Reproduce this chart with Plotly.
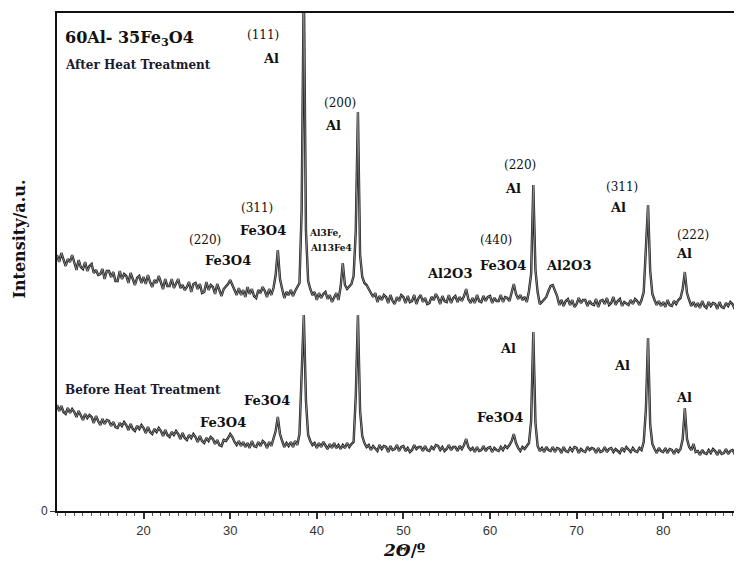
import numpy as np
import plotly.graph_objects as go

# ---------------- data ----------------
# 2-theta sampling: start, step (degrees)
two_theta_start = 10.0
two_theta_step = 0.25

# After heat treatment (upper pattern), intensity a.u., one row per degree (x.00, x.25, x.50, x.75)
after_ht = [
    256, 249, 258, 251,   # 10
    245, 252, 249, 256,   # 11
    248, 241, 251, 244,   # 12
    242, 249, 240, 245,   # 13
    247, 238, 241, 236,   # 14
    237, 242, 232, 240,   # 15
    240, 234, 239, 230,   # 16
    230, 240, 232, 237,   # 17
    235, 228, 238, 232,   # 18
    226, 233, 235, 228,   # 19
    234, 227, 236, 229,   # 20
    224, 231, 228, 235,   # 21
    229, 222, 232, 225,   # 22
    225, 232, 223, 228,   # 23
    232, 223, 226, 221,   # 24
    224, 229, 219, 227,   # 25
    228, 222, 227, 218,   # 26
    219, 229, 221, 226,   # 27
    224, 217, 227, 221,   # 28
    215, 222, 224, 227,   # 29
    231, 226, 222, 216,   # 30
    223, 216, 221, 214,   # 31
    224, 217, 222, 215,   # 32
    213, 221, 218, 224,   # 33
    220, 214, 222, 216,   # 34
    223, 236, 261, 232,   # 35
    222, 213, 219, 216,   # 36
    221, 215, 220, 224,   # 37
    228, 300, 530, 280,   # 38
    230, 222, 216, 219,   # 39
    211, 218, 213, 217,   # 40
    219, 212, 216, 209,   # 41
    213, 218, 211, 224,   # 42
    248, 226, 222, 224,   # 43
    227, 235, 280, 399,   # 44
    256, 234, 228, 226,   # 45
    222, 219, 214, 218,   # 46
    209, 215, 211, 216,   # 47
    214, 208, 216, 210,   # 48
    207, 214, 210, 216,   # 49
    214, 208, 215, 209,   # 50
    210, 216, 207, 213,   # 51
    216, 209, 213, 207,   # 52
    208, 214, 211, 217,   # 53
    213, 207, 215, 210,   # 54
    209, 216, 208, 213,   # 55
    215, 209, 214, 210,   # 56
    215, 222, 212, 208,   # 57
    213, 208, 216, 210,   # 58
    209, 215, 210, 214,   # 59
    215, 208, 213, 210,   # 60
    210, 216, 209, 214,   # 61
    213, 210, 218, 227,   # 62
    217, 212, 216, 211,   # 63
    214, 209, 220, 237,   # 64
    326, 241, 219, 207,   # 65
    209, 212, 214, 220,   # 66
    225, 226, 220, 215,   # 67
    206, 211, 205, 210,   # 68
    212, 206, 211, 204,   # 69
    207, 213, 208, 211,   # 70
    211, 205, 210, 207,   # 71
    206, 212, 204, 210,   # 72
    211, 207, 213, 206,   # 73
    208, 214, 206, 210,   # 74
    212, 205, 209, 207,   # 75
    206, 211, 207, 212,   # 76
    210, 206, 211, 219,   # 77
    259, 306, 240, 217,   # 78
    211, 206, 210, 205,   # 79
    209, 204, 211, 206,   # 80
    205, 210, 207, 211,   # 81
    213, 222, 239, 218,   # 82
    211, 205, 209, 204,   # 83
    208, 203, 210, 205,   # 84
    203, 209, 205, 208,   # 85
    207, 202, 209, 204,   # 86
    203, 208, 205, 209,   # 87
    207, 202, 208, 204,   # 88
    205,                  # 89
]

# Before heat treatment (lower pattern)
before_ht = [
    106, 100, 105, 99,    # 10
    97, 103, 98, 102,     # 11
    99, 94, 100, 95,      # 12
    91, 97, 93, 96,       # 13
    94, 88, 95, 90,       # 14
    86, 92, 87, 91,       # 15
    90, 85, 89, 84,       # 16
    83, 88, 85, 89,       # 17
    86, 81, 87, 82,       # 18
    80, 85, 82, 86,       # 19
    83, 78, 84, 79,       # 20
    77, 82, 79, 83,       # 21
    80, 75, 81, 76,       # 22
    74, 79, 76, 80,       # 23
    77, 72, 78, 73,       # 24
    71, 76, 73, 77,       # 25
    74, 69, 75, 70,       # 26
    68, 73, 70, 74,       # 27
    72, 67, 71, 66,       # 28
    65, 71, 70, 73,       # 29
    77, 74, 69, 66,       # 30
    70, 65, 69, 64,       # 31
    68, 63, 70, 65,       # 32
    64, 69, 65, 70,       # 33
    68, 63, 69, 65,       # 34
    72, 80, 94, 77,       # 35
    70, 64, 68, 65,       # 36
    69, 64, 70, 66,       # 37
    77, 130, 196, 110,    # 38
    76, 70, 66, 68,       # 39
    63, 68, 64, 69,       # 40
    65, 62, 67, 63,       # 41
    68, 63, 66, 62,       # 42
    66, 63, 68, 64,       # 43
    67, 69, 115, 196,     # 44
    100, 75, 68, 64,      # 45
    66, 61, 65, 62,       # 46
    60, 66, 62, 65,       # 47
    64, 59, 65, 61,       # 48
    62, 66, 60, 64,       # 49
    65, 60, 63, 59,       # 50
    61, 66, 62, 64,       # 51
    64, 60, 65, 61,       # 52
    60, 64, 62, 66,       # 53
    65, 61, 64, 60,       # 54
    62, 66, 61, 64,       # 55
    64, 60, 65, 62,       # 56
    66, 72, 64, 61,       # 57
    63, 59, 64, 60,       # 58
    61, 65, 60, 63,       # 59
    64, 59, 63, 61,       # 60
    60, 64, 61, 65,       # 61
    63, 66, 70, 77,       # 62
    68, 63, 60, 64,       # 63
    62, 65, 68, 90,       # 64
    179, 88, 65, 60,      # 65
    63, 59, 64, 61,       # 66
    60, 64, 59, 63,       # 67
    62, 58, 64, 60,       # 68
    59, 63, 60, 64,       # 69
    63, 58, 62, 60,       # 70
    59, 64, 61, 63,       # 71
    62, 58, 63, 59,       # 72
    60, 64, 59, 62,       # 73
    63, 59, 62, 60,       # 74
    58, 63, 60, 64,       # 75
    62, 59, 63, 60,       # 76
    59, 63, 61, 69,       # 77
    101, 173, 86, 67,     # 78
    62, 58, 63, 60,       # 79
    59, 63, 58, 62,       # 80
    61, 57, 62, 59,       # 81
    62, 72, 103, 72,      # 82
    64, 61, 67, 59,       # 83
    60, 56, 61, 58,       # 84
    57, 61, 58, 62,       # 85
    60, 56, 61, 57,       # 86
    58, 62, 57, 60,       # 87
    61, 57, 60, 56,       # 88
    58,                   # 89
]

x_tick_values = [20, 30, 40, 50, 60, 70, 80]
x_tick_labels = ["20", "30", "40", "50", "60", "70", "80"]

# ---------------- figure ----------------
tt_after = two_theta_start + two_theta_step * np.arange(len(after_ht))
tt_before = two_theta_start + two_theta_step * np.arange(len(before_ht))

fig = go.Figure()
for name, xs, ys in [("After Heat Treatment", tt_after, after_ht),
                     ("Before Heat Treatment", tt_before, before_ht)]:
    # dark outline stroke
    fig.add_trace(go.Scatter(x=xs, y=ys, mode="lines",
                             line=dict(color="#1e1e1e", width=2.4),
                             name=name, showlegend=False, hoverinfo="skip"))
    # grey core of the stroke
    fig.add_trace(go.Scatter(x=xs, y=ys, mode="lines",
                             line=dict(color="#9a9a9a", width=0.8),
                             name=name, showlegend=False))

SERIF = "DejaVu Serif"

def lab(text, x, y, size=13, bold=True, xanchor="center", color="#111"):
    t = f"<b>{text}</b>" if bold else text
    return dict(text=t, x=x, y=y, xref="x", yref="y", showarrow=False,
                xanchor=xanchor, yanchor="middle",
                font=dict(family=SERIF, size=size, color=color))

annotations = [
    lab("60Al- 35Fe<sub>3</sub>O4", 10.7, 473, size=16, xanchor="left"),
    lab("After Heat Treatment", 10.7, 446, size=12, xanchor="left", color="#1a1a2e"),
    lab("(111)", 33.8, 476, size=12, bold=False),
    lab("Al", 34.7, 453, size=13),
    lab("(200)", 42.7, 408, size=12, bold=False),
    lab("Al", 41.9, 386, size=13),
    lab("(311)", 33.1, 303, size=12, bold=False),
    lab("Fe3O4", 33.8, 281, size=13),
    lab("(220)", 27.1, 271, size=12, bold=False),
    lab("Fe3O4", 29.75, 251, size=13),
    lab("Al3Fe,", 40.9, 278, size=9),
    lab("Al13Fe4", 41.6, 263, size=9),
    lab("Al2O3", 55.3, 238, size=13),
    lab("(440)", 60.7, 271, size=12, bold=False),
    lab("Fe3O4", 61.5, 246, size=13),
    lab("Al2O3", 69.1, 246, size=13),
    lab("(220)", 63.5, 346, size=12, bold=False),
    lab("Al", 62.7, 323, size=13),
    lab("(311)", 75.2, 324, size=12, bold=False),
    lab("Al", 74.8, 304, size=13),
    lab("(222)", 83.4, 276, size=12, bold=False),
    lab("Al", 82.4, 258, size=13),
    lab("Before Heat Treatment", 10.7, 121, size=12, xanchor="left", color="#1a1a2e"),
    lab("Fe3O4", 34.25, 111, size=13),
    lab("Fe3O4", 29.2, 89, size=13),
    lab("Al", 62.1, 163, size=13),
    lab("Fe3O4", 61.15, 94, size=13),
    lab("Al", 75.2, 146, size=13),
    lab("Al", 82.4, 114, size=13),
    # axis titles
    dict(text="<b><i>2Θ</i>/º</b>", x=0.507, y=-0.078, xref="paper", yref="paper",
         showarrow=False, xanchor="center", yanchor="middle",
         font=dict(family=SERIF, size=17, color="#111")),
    dict(text="<b>Intensity/a.u.</b>", x=-0.054, y=0.545, xref="paper", yref="paper",
         showarrow=False, xanchor="center", yanchor="middle", textangle=-90,
         font=dict(family=SERIF, size=16, color="#111")),
]

# the page body has an 8px margin, so the figure is sized/offset to fit the window
fig.update_layout(
    width=734, height=555,
    margin=dict(l=49, r=0, t=5, b=52),
    paper_bgcolor="white", plot_bgcolor="white",
    annotations=annotations,
    showlegend=False,
)
fig.update_xaxes(
    range=[10, 89.1], showline=True, linecolor="#111", linewidth=2, mirror=True,
    showgrid=False, zeroline=False,
    tickmode="array", tickvals=x_tick_values, ticktext=x_tick_labels,
    ticks="outside", ticklen=6, tickwidth=1.5, tickcolor="#333",
    tickfont=dict(family="Liberation Sans", size=13, color="#333"),
    minor=dict(dtick=1, ticks="outside", ticklen=3, tickcolor="#555", tickwidth=1),
)
fig.update_yaxes(
    range=[0, 498], showline=True, linecolor="#111", linewidth=2,
    showgrid=False, zeroline=False,
    tickmode="array", tickvals=[0], ticktext=["0"],
    ticks="outside", ticklen=5, tickcolor="#333",
    tickfont=dict(family="Liberation Sans", size=12, color="#333"),
)

fig.write_html("out.html")
